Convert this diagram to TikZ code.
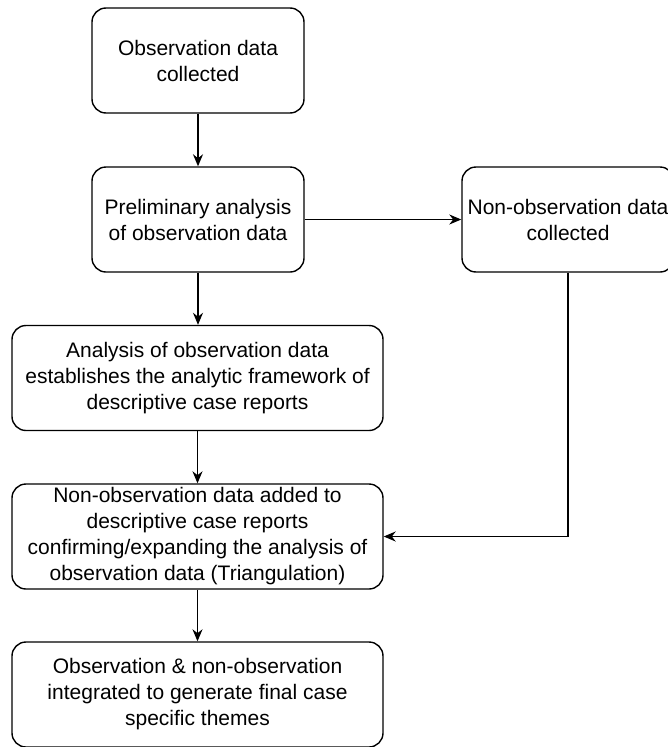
\documentclass[tikz,border=0pt]{standalone}
\usepackage{fontspec}
\setmainfont{Liberation Sans}
\usetikzlibrary{arrows.meta}

\begin{document}
\begin{tikzpicture}[x=1pt, y=-1pt,
    stagebox/.style={draw, line width=1.4pt, rounded corners=14pt, align=center,
        minimum height=105pt, inner sep=0pt, font=\fontsize{21}{26}\selectfont},
    flow/.style={line width=1.5pt, -{Stealth[length=12pt, width=10pt]}}]
    \useasboundingbox (0,0) rectangle (667,747);

    % Boxes
    \node[stagebox, minimum width=212pt] (collected) at (198, 60.5) {Observation data\\collected};
    \node[stagebox, minimum width=212pt] (prelim) at (198, 219.5) {Preliminary analysis\\of observation data};
    \node[stagebox, minimum width=212pt] (nonobs) at (568, 219.5) {Non-observation data\\collected};
    \node[stagebox, minimum width=371pt] (framework) at (197.5, 378) {Analysis of observation data\\establishes the analytic framework of\\descriptive case reports};
    \node[stagebox, minimum width=371pt] (triang) at (197.5, 536.5) {Non-observation data added to\\descriptive case reports\\confirming/expanding the analysis of\\observation data (Triangulation)};
    \node[stagebox, minimum width=371pt] (themes) at (197.5, 694.5) {Observation \& non-observation\\integrated to generate final case\\specific themes};

    % Arrows
    \draw[flow] (collected) -- (prelim);
    \draw[flow] (prelim) -- (nonobs);
    \draw[flow] (prelim.south) -- (prelim.south |- framework.north);
    \draw[flow] (framework.south) -- (framework.south |- triang.north);
    \draw[flow] (nonobs.south) |- (triang.east);
    \draw[flow] (triang.south) -- (triang.south |- themes.north);
\end{tikzpicture}
\end{document}
